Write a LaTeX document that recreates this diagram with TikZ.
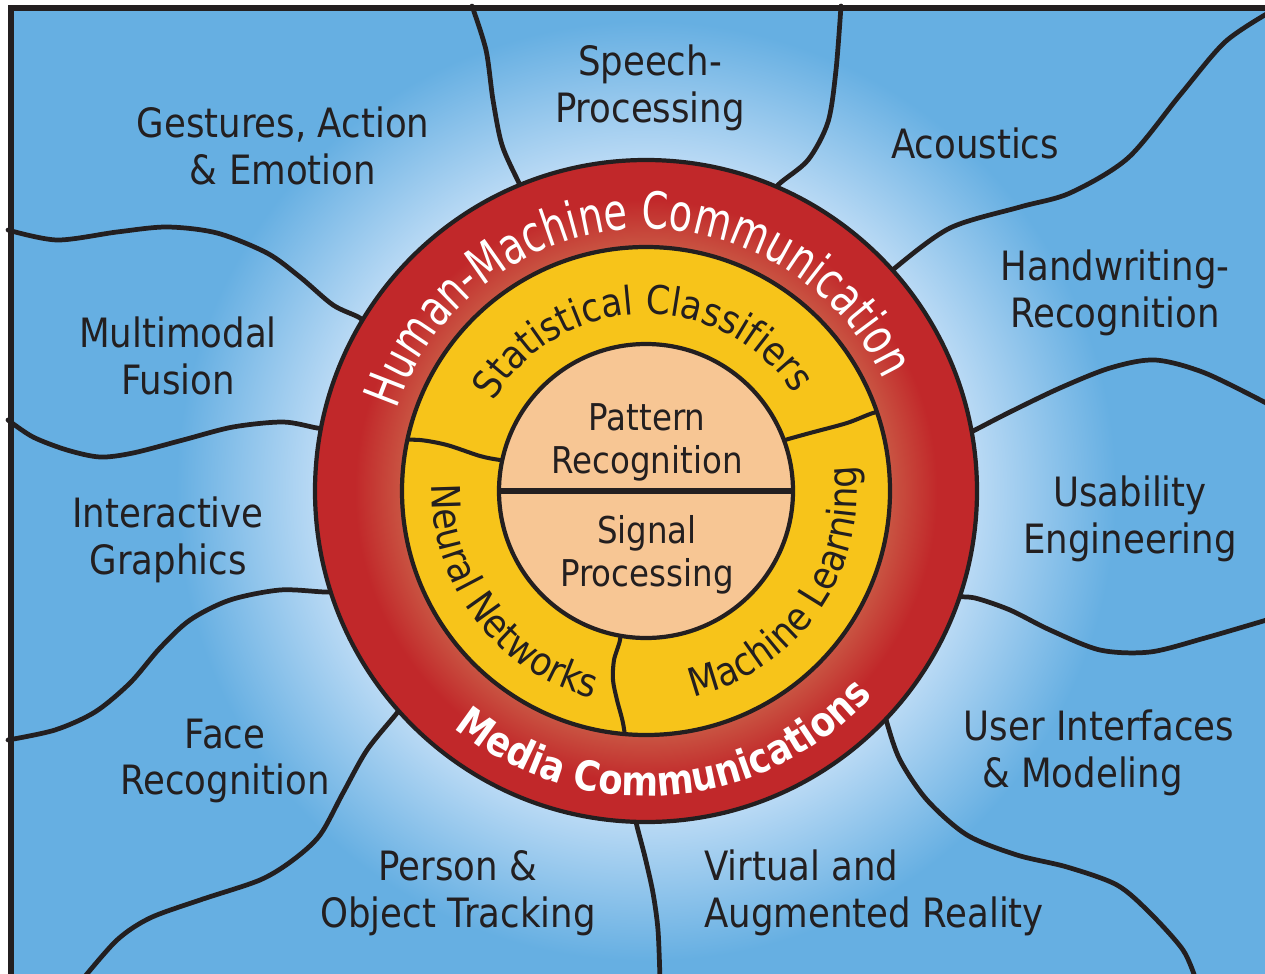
\documentclass[tikz,border=0pt]{standalone}
\usepackage{fontspec}
\setmainfont{DejaVu Sans}
\newfontfamily\lblfont{DejaVu Sans}[FakeStretch=0.88]
\newfontfamily\ringfont{DejaVu Sans}[FakeStretch=0.75]
\newfontfamily\mediafont{DejaVu Sans}[FakeStretch=0.86]
\usetikzlibrary{decorations.text}

\definecolor{bgblue}{RGB}{102,175,226}
\definecolor{haloblue}{RGB}{192,221,246}
\definecolor{ringred}{RGB}{193,40,42}
\definecolor{ringlight}{RGB}{201,84,66}
\definecolor{ringyellow}{RGB}{247,196,26}
\definecolor{corepeach}{RGB}{247,198,148}
\definecolor{ink}{RGB}{35,31,32}

\pgfdeclareradialshading{halo}{\pgfpointorigin}{color(0bp)=(haloblue); color(17bp)=(haloblue); color(25bp)=(bgblue); color(50bp)=(bgblue)}
\pgfdeclareradialshading{redring}{\pgfpointorigin}{color(0bp)=(ringlight); color(18.5bp)=(ringlight); color(22bp)=(ringred); color(50bp)=(ringred)}

\begin{document}
\begin{tikzpicture}[x=0.02cm, y=0.02cm,
   wave/.style={draw=ink, line width=2.7pt, line cap=round, line join=round},
   ring/.style={draw=ink, line width=2.4pt},
   area/.style={font=\lblfont\fontsize{23}{26.6}\selectfont, text=ink, align=center, inner sep=0pt},
   core/.style={font=\lblfont\fontsize{21}{24.4}\selectfont, text=ink, align=center, inner sep=0pt}]

\useasboundingbox (0,0) rectangle (1265,-974);
\fill[white] (0,0) rectangle (1265,-974);
\fill[bgblue] (10.8,-8) rectangle (1265,-974);
\coordinate (c) at (646,-491);
\shade[shading=halo] (c) circle (470);

% borders of the outer fields
\draw[wave] plot[smooth] coordinates {(530,-205) (519,-183) (502,-145) (493,-100) (486,-50) (472,-6)};
\draw[wave] plot[smooth] coordinates {(765,-205) (778,-185) (808,-160) (828,-122) (836,-70) (841,-6)};
\draw[wave] plot[smooth] coordinates {(880,-285) (895,-268) (950,-228) (1020,-207) (1070,-193) (1128,-158) (1180,-95) (1225,-42) (1270,-12)};
\draw[wave] plot[smooth] coordinates {(955,-440) (975,-430) (1010,-412) (1060,-388) (1110,-368) (1155,-360) (1205,-373) (1270,-405)};
\draw[wave] plot[smooth] coordinates {(955,-597) (975,-598) (1010,-610) (1050,-630) (1100,-650) (1150,-652) (1205,-638) (1270,-619)};
\draw[wave] plot[smooth] coordinates {(882,-700) (887,-723) (900,-760) (927,-800) (967,-835) (1017,-855) (1067,-867) (1117,-885) (1150,-913) (1183,-950) (1196,-980)};
\draw[wave] plot[smooth] coordinates {(633,-800) (636,-822) (645,-857) (653,-893) (658,-930) (660,-980)};
\draw[wave] plot[smooth] coordinates {(410,-695) (397,-713) (367,-750) (343,-793) (320,-835) (293,-860) (260,-880) (200,-900) (150,-918) (117,-940) (82,-980)};
\draw[wave] plot[smooth] coordinates {(345,-591) (325,-592) (280,-590) (230,-600) (190,-620) (160,-648) (130,-683) (95,-712) (55,-730) (8,-740)};
\draw[wave] plot[smooth] coordinates {(330,-429) (317,-428) (283,-422) (233,-427) (183,-440) (133,-453) (100,-457) (67,-450) (33,-437) (8,-420)};
\draw[wave] plot[smooth] coordinates {(370,-330) (360,-318) (333,-305) (300,-277) (267,-253) (217,-233) (167,-227) (117,-232) (57,-240) (8,-230)};

% rings
\shade[shading=redring] (c) circle (331);
\draw[ring] (c) circle (331);
\fill[ringyellow] (c) circle (244);
\begin{scope}
   \clip (c) circle (244);
   \draw[wave, line width=2.3pt] plot[smooth] coordinates {(520,-462) (500,-460) (480,-456) (447,-445) (420,-440) (395,-440)};
   \draw[wave, line width=2.3pt] plot[smooth] coordinates {(770,-445) (785,-440) (810,-433) (847,-423) (873,-413) (895,-408)};
   \draw[wave, line width=2.3pt] plot[smooth] coordinates {(621,-620) (620,-640) (614,-660) (613,-680) (617,-700) (623,-723) (627,-750)};
\end{scope}
\draw[ring] (c) circle (244);
\fill[corepeach] (c) circle (147);
\draw[ink, line width=2.9pt] (c) ++(-147,0) -- ++(294,0);
\draw[ring] (c) circle (147);

% ring texts
\path[decorate, decoration={text along path, text align=center,
   text={|\ringfont\fontsize{29}{29}\selectfont\color{white}|Human-Machine Communication}}]
   (c) ++(173.5:262) arc[start angle=173.5, end angle=13.5, radius=262];
\path[decorate, decoration={text along path, text align=center,
   text={|\mediafont\bfseries\fontsize{23.4}{23.4}\selectfont\color{white}|Media Communications}}]
   (c) ++(199.5:305) arc[start angle=199.5, end angle=349.5, radius=305];
\path[decorate, decoration={text along path, text align=center,
   text={|\lblfont\fontsize{22.5}{22.5}\selectfont\color{ink}|Statistical Classifiers}}]
   (c) ++(171.3:177) arc[start angle=171.3, end angle=11.3, radius=177];
\path[decorate, decoration={text along path, text align=center,
   text={|\lblfont\fontsize{22.5}{22.5}\selectfont\color{ink}|Neural Networks}}]
   (c) ++(157:214) arc[start angle=157, end angle=277, radius=214];
\path[decorate, decoration={text along path, text align=center,
   text={|\lblfont\fontsize{22.5}{22.5}\selectfont\color{ink}|Machine Learning}}]
   (c) ++(265:211) arc[start angle=265, end angle=385, radius=211];

% centre and outer fields
\node[core] (pattern) at (647,-442) {Pattern\\Recognition};
\node[core] (signal) at (647,-555) {Signal\\Processing};

\node[area] (speech) at (650,-88) {Speech-\\Processing};
\node[area] (acoustics) at (975,-143) {Acoustics};
\node[area] (gestures) at (283,-146) {Gestures, Action\\\& Emotion};
\node[area] (handwriting) at (1115,-293) {Handwriting-\\Recognition};
\node[area] (multimodal) at (178,-356) {Multimodal\\Fusion};
\node[area] (usability) at (1130,-519) {Usability\\Engineering};
\node[area] (interactive) at (168,-540) {Interactive\\Graphics};
\node[area] (face) at (225,-761) {Face\\Recognition};
\node[area, align=left] (userif) at (1099,-753) {User Interfaces\\\hspace{0.45em}\& Modeling};
\node[area] (person) at (458,-893) {Person \&\\Object Tracking};
\node[area, align=left] (virtual) at (874,-893) {Virtual and\\Augmented Reality};

% frame
\draw[ink, line width=3.1pt] (10.8,-990) -- (10.8,-8) -- (1280,-8);
\end{tikzpicture}
\end{document}
